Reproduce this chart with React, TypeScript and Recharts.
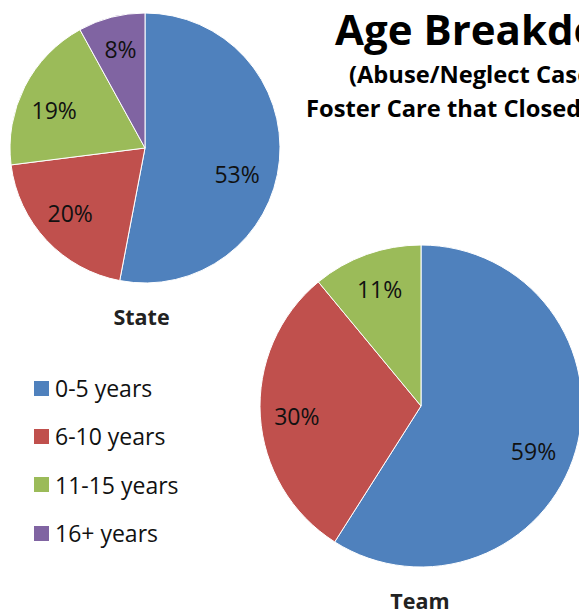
import { PieChart, Pie, Cell, Legend } from "recharts";

const CATEGORIES = ["0-5 years", "6-10 years", "11-15 years", "16+ years"];
const STATE_VALUES = [53, 20, 19, 8];
const TEAM_VALUES = [59, 30, 11];
const COLORS = ["#4F81BD", "#C0504D", "#9BBB59", "#8064A2"];

// small label nudges (Excel "best fit" doesn't sit exactly on the mid angle)
const STATE_NUDGE = [[-6, 17], [-3, -2], [-3, 7], [0, -4]];
const TEAM_NUDGE = [[-5, 11], [-2, 2], [0, -2]];

const FONT = "'Open Sans', 'Liberation Sans', sans-serif";
const RAD = Math.PI / 180;

const stateData = CATEGORIES.map((name, i) => ({ name, value: STATE_VALUES[i] }));
const teamData = TEAM_VALUES.map((value, i) => ({ name: CATEGORIES[i], value }));

function pctLabel(factor: number, nudge: number[][]) {
  return (p: any) => {
    const r = p.outerRadius * factor;
    const [dx, dy] = nudge[p.index] || [0, 0];
    const x = p.cx + r * Math.cos(-p.midAngle * RAD) + dx;
    const y = p.cy + r * Math.sin(-p.midAngle * RAD) + dy;
    return (
      <text
        x={x}
        y={y}
        textAnchor="middle"
        dominantBaseline="central"
        fontFamily={FONT}
        fontSize={23}
        fill="#111"
      >
        {p.value}%
      </text>
    );
  };
}

function LegendBox() {
  return (
    <div style={{ fontFamily: FONT, fontSize: 23, color: "#111" }}>
      {CATEGORIES.map((c, i) => (
        <div key={c} style={{ display: "flex", alignItems: "center", height: 48.3 }}>
          <span style={{ width: 15, height: 15, background: COLORS[i], marginRight: 6 }} />
          <span>{c}</span>
        </div>
      ))}
    </div>
  );
}

export default function App() {
  return (
    <div style={{ position: "fixed", left: 0, top: 0, width: 579, height: 611, overflow: "hidden", background: "#fff" }}>
      <PieChart width={579} height={611} margin={{ top: 0, right: 0, bottom: 0, left: 0 }}>
        <text x={335} y={45} fontFamily={FONT} fontWeight={700} fontSize={42} fill="#000">
          Age Breakdown
        </text>
        <text x={349} y={83} fontFamily={FONT} fontWeight={700} fontSize={23.7} fill="#000">
          (Abuse/Neglect Cases in
        </text>
        <text x={306} y={117} fontFamily={FONT} fontWeight={700} fontSize={23.7} fill="#000">
          Foster Care that Closed in
        </text>
        <Pie
          data={stateData}
          dataKey="value"
          nameKey="name"
          cx={145}
          cy={148}
          outerRadius={135}
          startAngle={90}
          endAngle={-270}
          stroke="#fff"
          strokeWidth={1}
          label={pctLabel(0.73, STATE_NUDGE)}
          labelLine={false}
          isAnimationActive={false}
        >
          {stateData.map((d, i) => (
            <Cell key={d.name} fill={COLORS[i]} />
          ))}
        </Pie>
        <Pie
          data={teamData}
          dataKey="value"
          nameKey="name"
          cx={421}
          cy={406}
          outerRadius={161}
          startAngle={90}
          endAngle={-270}
          stroke="#fff"
          strokeWidth={1}
          label={pctLabel(0.76, TEAM_NUDGE)}
          labelLine={false}
          isAnimationActive={false}
        >
          {teamData.map((d, i) => (
            <Cell key={d.name} fill={COLORS[i]} />
          ))}
        </Pie>
        <text x={141.5} y={325} textAnchor="middle" fontFamily={FONT} fontWeight={700} fontSize={21.5} fill="#222">
          State
        </text>
        <text x={420} y={609} textAnchor="middle" fontFamily={FONT} fontWeight={700} fontSize={21.5} fill="#222">
          Team
        </text>
        <Legend
          content={() => <LegendBox />}
          layout="vertical"
          wrapperStyle={{ position: "absolute", left: 34, top: 364, width: 180 }}
        />
      </PieChart>
    </div>
  );
}
